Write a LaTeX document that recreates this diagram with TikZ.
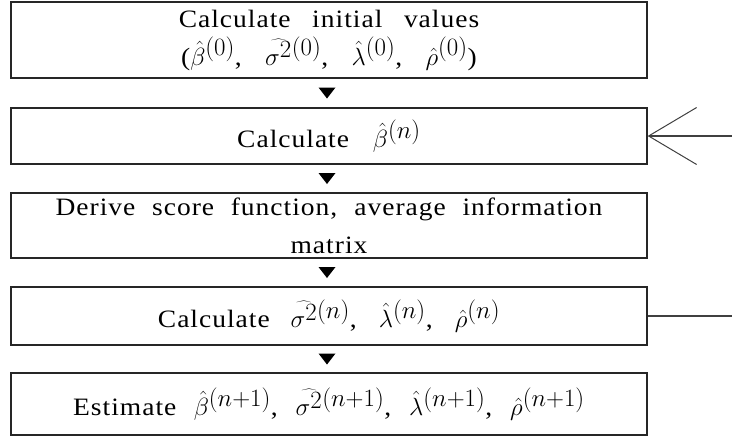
\documentclass[tikz,border=0pt]{standalone}
\usepackage{fontspec}
\newfontfamily\boxfont{Liberation Serif}[FakeStretch=1.1, LetterSpace=4]
\DeclareMathSizes{25}{27}{23}{17}
\newcommand\bxf{\boxfont\fontsize{25}{38}\selectfont}
\newcommand\bxsp{\spaceskip=15pt plus 2pt minus 2pt\relax}
\usetikzlibrary{arrows.meta,calc}
\begin{document}
\begin{tikzpicture}[x=1pt,y=-1pt,
  box/.style={draw=black!85, line width=1.3pt, minimum width=636pt, text width=630pt,
    align=center, inner sep=0pt, font=\bxf, execute at begin node=\bxsp},
  tri/.style={fill=black},
  link/.style={draw=black!75, line width=1.3pt}]
\useasboundingbox (0,0) rectangle (732,437);
\node[box, minimum height=76pt] (b1) at (329,40)
  {Calculate initial values\\($\hat{\beta}^{(0)}$, $\widehat{\sigma^{2}}{}^{(0)}$, $\hat{\lambda}^{(0)}$, $\hat{\rho}^{(0)}$)};
\node[box, minimum height=56pt] (b2) at (329,136)
  {Calculate $\hat{\beta}^{(n)}$};
\node[box, minimum height=65pt] (b3) at (329,225.5)
  {Derive score function, average information\\matrix};
\node[box, minimum height=58pt] (b4) at (329,316)
  {Calculate $\widehat{\sigma^{2}}{}^{(n)}$, $\hat{\lambda}^{(n)}$, $\hat{\rho}^{(n)}$};
\node[box, minimum height=62pt] (b5) at (329,404)
  {Estimate $\hat{\beta}^{(n+1)}$, $\widehat{\sigma^{2}}{}^{(n+1)}$, $\hat{\lambda}^{(n+1)}$, $\hat{\rho}^{(n+1)}$};
\foreach \a/\b in {b1/b2,b2/b3,b3/b4,b4/b5}
  \fill[tri] ($(\a.south)!0.5!(\b.north)+(-10.5,-5.5)$) -- ++(17,0) -- ++(-8.5,11) -- cycle;
\coordinate (r2) at (732,136);
\coordinate (r4) at (732,316);
\draw[link, -{Straight Barb[length=48pt, width=57pt, line width=1pt]}] (r2) -- (b2.east);
\draw[link] (b4.east) -- (r4);
\end{tikzpicture}
\end{document}
